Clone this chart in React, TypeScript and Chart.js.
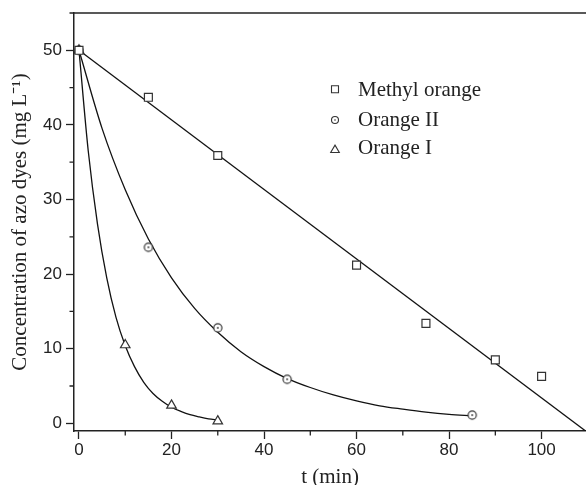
import React, { useEffect, useRef } from 'react';
import { Chart, registerables } from 'chart.js';

Chart.register(...registerables);

// ---- data ----
const seriesLabels = ['Methyl orange', 'Orange II', 'Orange I'];

const methylT = [0, 15, 30, 60, 75, 90, 100];
const methylC = [50, 43.7, 35.9, 21.2, 13.4, 8.5, 6.3];
const methylFitT = [0, 109.6];
const methylFitC = [50, -1.07];

const orange2T = [0, 15, 30, 45, 85];
const orange2C = [50, 23.6, 12.8, 5.9, 1.1];
const orange2FitT = [0, 5, 10, 15, 20, 25, 30, 35, 40, 45, 50, 55, 60, 65, 70, 75, 80, 85];
const orange2FitC = [50, 39.5, 31.3, 24.7, 19.5, 15.4, 12.2, 9.6, 7.6, 6.0, 4.8, 3.8, 3.0, 2.35, 1.9, 1.5, 1.2, 1.0];

const orange1T = [0, 10, 20, 30];
const orange1C = [50, 10.5, 2.4, 0.3];
const orange1FitT = [0, 2, 4, 6, 8, 10, 12, 14, 16, 18, 20, 22, 24, 26, 28, 30];
const orange1FitC = [50, 36.5, 26.7, 19.5, 14.2, 10.4, 7.6, 5.5, 4.0, 2.95, 2.15, 1.6, 1.15, 0.85, 0.6, 0.45];

const yMajorTicks = [0, 10, 20, 30, 40, 50];
const yMinorTicks = [5, 15, 25, 35, 45, 55];
const xMajorTicks = [0, 20, 40, 60, 80, 100];
const xMinorTicks = [10, 30, 50, 70, 90];

const toPts = (xs: number[], ys: number[]) => xs.map((x, i) => ({ x, y: ys[i] }));

const INK = '#222';
const MARK = '#333';

function circleDot(): HTMLCanvasElement {
  const c = document.createElement('canvas');
  c.width = 12;
  c.height = 12;
  const g = c.getContext('2d')!;
  g.beginPath();
  g.arc(6, 6, 4.1, 0, Math.PI * 2);
  g.fillStyle = '#fff';
  g.fill();
  g.lineWidth = 1.2;
  g.strokeStyle = MARK;
  g.stroke();
  g.beginPath();
  g.arc(6, 6, 0.9, 0, Math.PI * 2);
  g.fillStyle = MARK;
  g.fill();
  return c;
}

const decor = {
  id: 'decor',
  afterDraw(chart: any) {
    const { ctx, chartArea, scales } = chart;
    const xs = scales.x;
    const ys = scales.y;
    ctx.save();
    ctx.strokeStyle = INK;
    ctx.lineWidth = 1.5;
    ctx.beginPath();
    ctx.moveTo(chartArea.left - 0.75, chartArea.top);
    ctx.lineTo(chartArea.right, chartArea.top);
    ctx.stroke();
    ctx.lineWidth = 1.3;
    ctx.beginPath();
    for (const v of yMinorTicks) {
      const p = ys.getPixelForValue(v);
      ctx.moveTo(chartArea.left - 4.5, p);
      ctx.lineTo(chartArea.left, p);
    }
    for (const v of xMinorTicks) {
      const p = xs.getPixelForValue(v);
      ctx.moveTo(p, chartArea.bottom);
      ctx.lineTo(p, chartArea.bottom + 4.5);
    }
    ctx.stroke();

    // legend
    const mx = 335;
    const rows = [89.3, 120, 149.3];
    const bases = [96, 126, 154.3];
    ctx.lineWidth = 1.1;
    ctx.strokeStyle = MARK;
    ctx.fillStyle = '#fff';
    // square
    ctx.beginPath();
    ctx.rect(mx - 3.5, rows[0] - 3.5, 7, 7);
    ctx.fill();
    ctx.stroke();
    // circle with dot
    ctx.beginPath();
    ctx.arc(mx, rows[1], 3.5, 0, Math.PI * 2);
    ctx.fill();
    ctx.stroke();
    ctx.beginPath();
    ctx.arc(mx, rows[1], 0.8, 0, Math.PI * 2);
    ctx.fillStyle = MARK;
    ctx.fill();
    // triangle
    ctx.beginPath();
    ctx.moveTo(mx, rows[2] - 4.2);
    ctx.lineTo(mx + 4.3, rows[2] + 3.2);
    ctx.lineTo(mx - 4.3, rows[2] + 3.2);
    ctx.closePath();
    ctx.fillStyle = '#fff';
    ctx.fill();
    ctx.stroke();

    ctx.fillStyle = INK;
    ctx.font = '21px "Liberation Serif"';
    ctx.textBaseline = 'alphabetic';
    ctx.textAlign = 'left';
    seriesLabels.forEach((t, i) => ctx.fillText(t, 358, bases[i]));
    ctx.restore();
  },
};

export default function App() {
  const ref = useRef<HTMLCanvasElement | null>(null);

  useEffect(() => {
    if (!ref.current) return;
    const cd = circleDot();
    const markerCommon = {
      showLine: false,
      pointBorderColor: MARK,
      pointBackgroundColor: '#fff',
      pointBorderWidth: 1.2,
      order: 0,
    };
    const lineCommon = {
      showLine: true,
      pointRadius: 0,
      borderColor: '#111',
      borderWidth: 1.3,
      cubicInterpolationMode: 'monotone' as const,
      order: 1,
    };
    const chart = new Chart(ref.current, {
      type: 'scatter',
      data: {
        datasets: [
          { label: seriesLabels[0], data: toPts(methylT, methylC), pointStyle: 'rect', pointRadius: 5.6, ...markerCommon },
          { label: seriesLabels[1], data: toPts(orange2T, orange2C), pointStyle: cd, pointRadius: 4, ...markerCommon },
          { label: seriesLabels[2], data: toPts(orange1T, orange1C), pointStyle: 'triangle', pointRadius: 5.5, ...markerCommon },
          { label: 'fit MO', data: toPts(methylFitT, methylFitC), ...lineCommon },
          { label: 'fit OII', data: toPts(orange2FitT, orange2FitC), ...lineCommon },
          { label: 'fit OI', data: toPts(orange1FitT, orange1FitC), ...lineCommon },
        ] as any,
      },
      options: {
        animation: false,
        responsive: false,
        layout: { autoPadding: false, padding: { top: 13, left: 0, right: 0, bottom: 0 } },
        plugins: { legend: { display: false }, tooltip: { enabled: false } },
        scales: {
          x: {
            type: 'linear',
            min: -1.08,
            max: 109.6,
            afterFit: (s: any) => { s.height = 54; s.paddingLeft = 0; s.paddingRight = 0; },
            afterBuildTicks: (s: any) => { s.ticks = xMajorTicks.map((v) => ({ value: v })); },
            grid: { display: true, drawOnChartArea: false, drawTicks: true, tickLength: 8, tickColor: INK, tickWidth: 1.3 },
            border: { display: true, color: INK, width: 1.5 },
            ticks: { color: INK, padding: 1, font: { family: 'Liberation Sans', size: 17 }, maxRotation: 0 },
            title: {
              display: true,
              text: 't (min)',
              color: INK,
              font: { family: 'Liberation Serif', size: 21, lineHeight: '15px' },
              padding: 0,
            },
          },
          y: {
            type: 'linear',
            min: -1.03,
            max: 55,
            afterFit: (s: any) => { s.width = 74; s.paddingTop = 0; s.paddingBottom = 0; },
            afterBuildTicks: (s: any) => { s.ticks = yMajorTicks.map((v) => ({ value: v })); },
            grid: { display: true, drawOnChartArea: false, drawTicks: true, tickLength: 8, tickColor: INK, tickWidth: 1.3 },
            border: { display: true, color: INK, width: 1.5 },
            ticks: { color: INK, padding: 4, font: { family: 'Liberation Sans', size: 17 } },
            title: {
              display: true,
              text: 'Concentration of azo dyes (mg L\u207B\u00B9)',
              color: INK,
              font: { family: 'Liberation Serif', size: 21 },
              padding: { top: 8, bottom: 0 },
            },
          },
        },
      } as any,
      plugins: [decor],
    });
    return () => chart.destroy();
  }, []);

  return (
    <div style={{ position: 'fixed', left: 0, top: 0, width: 586, height: 485, background: '#fff' }}>
      <canvas ref={ref} width={586} height={485} style={{ display: 'block', width: 586, height: 485 }} />
    </div>
  );
}
